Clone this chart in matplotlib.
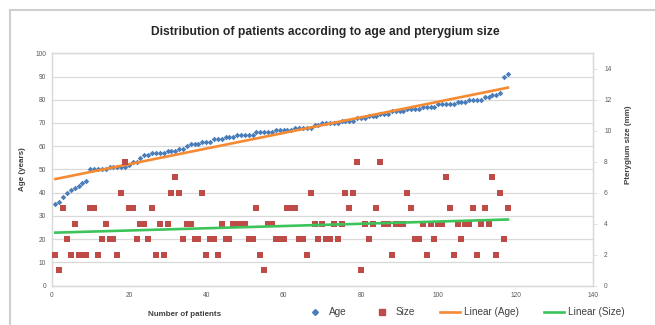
import numpy as np
import matplotlib
matplotlib.use("Agg")
import matplotlib.pyplot as plt
from matplotlib.lines import Line2D

plt.rcParams['font.family'] = ['Liberation Sans', 'DejaVu Sans']

title = "Distribution of patients according to age and pterygium size"
x_label = "Number of patients"
y_left_label = "Age (years)"
y_right_label = "Pterygium size (mm)"

ages = [35, 36, 38, 40, 41, 42, 43, 44, 45, 50,
        50, 50, 50, 50, 51, 51, 51, 51, 51, 52,
        53, 53, 55, 56, 56, 57, 57, 57, 57, 58,
        58, 58, 59, 59, 60, 61, 61, 61, 62, 62,
        62, 63, 63, 63, 64, 64, 64, 65, 65, 65,
        65, 65, 66, 66, 66, 66, 66, 67, 67, 67,
        67, 67, 68, 68, 68, 68, 68, 69, 69, 70,
        70, 70, 70, 70, 71, 71, 71, 71, 72, 72,
        72, 73, 73, 73, 74, 74, 74, 75, 75, 75,
        75, 76, 76, 76, 76, 77, 77, 77, 77, 78,
        78, 78, 78, 78, 79, 79, 79, 80, 80, 80,
        80, 81, 81, 82, 82, 83, 90, 91]

sizes = [2, 1, 5, 3, 2, 4, 2, 2, 2, 5,
         5, 2, 3, 4, 3, 3, 2, 6, 8, 5,
         5, 3, 4, 4, 3, 5, 2, 4, 2, 4,
         6, 7, 6, 3, 4, 4, 3, 3, 6, 2,
         3, 3, 2, 4, 3, 3, 4, 4, 4, 4,
         3, 3, 5, 2, 1, 4, 4, 3, 3, 3,
         5, 5, 5, 3, 3, 2, 6, 4, 3, 4,
         3, 3, 4, 3, 4, 6, 5, 6, 8, 1,
         4, 3, 4, 5, 8, 4, 4, 2, 4, 4,
         4, 6, 5, 3, 3, 4, 2, 4, 3, 4,
         4, 7, 5, 2, 4, 3, 4, 4, 5, 2,
         4, 5, 4, 7, 2, 6, 3, 5]

patients = np.arange(1, len(ages) + 1)

age_col = '#4A7EBB'
size_col = '#BE4B48'
age_fit_col = '#F58A33'
size_fit_col = '#3CC35A'
grid_col = '#D9D9D9'
text_col = '#404040'

fig = plt.figure(figsize=(6.55, 3.25), dpi=100)
W, H = 655, 325
# outer chart border
fig.add_artist(Line2D([9.5 / W, 9.5 / W], [0, 1 - 9.5 / H], transform=fig.transFigure,
                      color='#CFCFCF', lw=1.5))
fig.add_artist(Line2D([9.5 / W, 1], [1 - 9.5 / H, 1 - 9.5 / H], transform=fig.transFigure,
                      color='#CFCFCF', lw=1.5))

left, right, top, bottom = 51.5, 593, 53.3, 285.5
ax = fig.add_axes([left / W, 1 - bottom / H, (right - left) / W, (bottom - top) / H])
ax2 = ax.twinx()

ax.set_xlim(0, 140)
ax.set_ylim(0, 100)
ax2.set_ylim(0, 15)
ax.set_xticks(np.arange(0, 141, 20))
ax.set_yticks(np.arange(0, 101, 10))
ax2.set_yticks(np.arange(0, 15, 2))

ax.yaxis.grid(True, color=grid_col, lw=0.9)
ax.set_axisbelow(True)
for a in (ax, ax2):
    for s in a.spines.values():
        s.set_color(grid_col)
        s.set_linewidth(0.9)
    a.tick_params(labelsize=4.8, colors='#595959', length=2, width=0.6, pad=2)
ax.tick_params(axis='y', length=0, pad=4)
ax.tick_params(axis='x', length=0, pad=5)
ax2.tick_params(axis='y', length=3, color=grid_col, pad=5)

ax.scatter(patients, ages, marker='D', s=8, color=age_col, zorder=3, linewidths=0)
ax2.scatter(patients, sizes, marker='s', s=17, color=size_col, zorder=3, linewidths=0)

ca = np.polyfit(patients, ages, 1)
cs = np.polyfit(patients, sizes, 1)
xe = np.array([patients[0], patients[-1]])
ax.plot(xe, np.polyval(ca, xe), color=age_fit_col, lw=1.9, zorder=4)
ax2.plot(xe, np.polyval(cs, xe), color=size_fit_col, lw=1.9, zorder=4)

fig.text(325 / W, 1 - 32 / H, title, ha='center', va='center', fontsize=8.7,
         fontweight='bold', color='#262626')
fig.text(185 / W, 1 - 314 / H, x_label, ha='center', va='center', fontsize=5.8,
         fontweight='bold', color=text_col)
fig.text(22 / W, 1 - 169 / H, y_left_label, ha='center', va='center', fontsize=5.8,
         fontweight='bold', color=text_col, rotation=90)
fig.text(628 / W, 1 - 145 / H, y_right_label, ha='center', va='center', fontsize=5.8,
         fontweight='bold', color=text_col, rotation=90)

handles = [
    Line2D([], [], marker='D', ls='none', color=age_col, markersize=3),
    Line2D([], [], marker='s', ls='none', color=size_col, markersize=3.8),
    Line2D([], [], color=age_fit_col, lw=1.9),
    Line2D([], [], color=size_fit_col, lw=1.9),
]
labels = ['Age', 'Size', 'Linear (Age)', 'Linear (Size)']
fig.legend(handles, labels, loc='center', bbox_to_anchor=(465 / W, 1 - 312 / H), ncol=4,
           frameon=False, fontsize=7.2, handlelength=2.0, columnspacing=2.5,
           handletextpad=0.4, labelcolor=text_col)

fig.savefig('out.png', dpi=100)
